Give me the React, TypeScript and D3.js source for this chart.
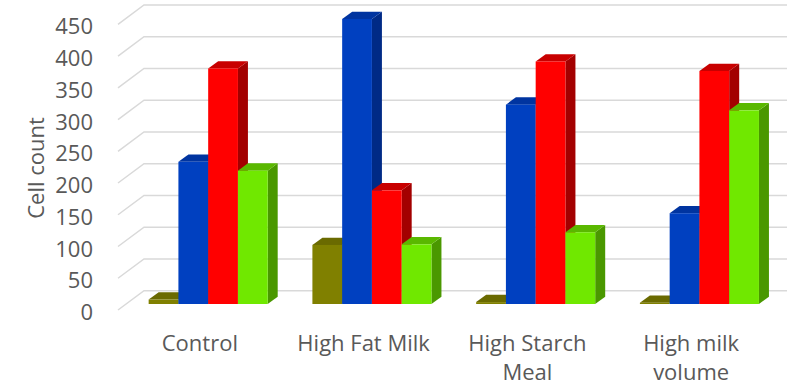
import React from "react";
import * as d3 from "d3";

// Chart data
const categories = ["Control", "High Fat Milk", "High Starch Meal", "High milk volume"];
const categoryLines = [["Control"], ["High Fat Milk"], ["High Starch", "Meal"], ["High milk", "volume"]];
const seriesNames = ["S1", "S2", "S3", "S4"];
const olive = [7, 93, 3, 2];
const blue = [224, 449, 314, 143];
const red = [371, 179, 382, 367];
const green = [210, 94, 113, 305];
const yTicks = [0, 50, 100, 150, 200, 250, 300, 350, 400, 450];

const seriesValues = [olive, blue, red, green];
// front / top / side shades for each series
const seriesColors = [
  { front: "#808000", top: "#6a6a00", side: "#5c5c00" },
  { front: "#0040c0", top: "#0034a0", side: "#002a86" },
  { front: "#ff0000", top: "#c80000", side: "#a30000" },
  { front: "#70e800", top: "#5ab800", side: "#4a9800" },
];

const W = 787;
const H = 386;

// oblique projection of the floor depth
const floorDX = 26;
const floorDY = -19.3;
// bar plane sits partway into the floor; bar depth
const barOffX = 8.3;
const barOffY = -6;
const barDX = 10;
const barDY = -7.3;

const floorLeft = 118;
const floorRight = 773;

export default function App() {
  const yFloor = d3.scaleLinear().domain([0, 450]).range([310, 310 - 285.7]);
  const yBar = (v: number) => yFloor(v) + barOffY;

  const x0 = d3
    .scaleBand<string>()
    .domain(categories)
    .range([floorLeft + barOffX, floorRight + barOffX])
    .paddingInner(0.273)
    .paddingOuter(0.1365);
  const x1 = d3.scaleBand<string>().domain(seriesNames).range([0, x0.bandwidth()]);

  const textColor = "#595959";
  const font = "'Open Sans', 'Noto Sans', sans-serif";

  return (
    <svg width={W} height={H} style={{ position: "absolute", left: 0, top: 0 }}>
      <rect width={W} height={H} fill="#ffffff" />
      {/* gridlines: slanted on the floor side, flat across the back wall */}
      {yTicks.map((t) => {
        const y = yFloor(t);
        const d = `M${floorLeft},${y} L${floorLeft + floorDX},${y + floorDY} L${W},${y + floorDY}`;
        return <path key={"g" + t} d={d} fill="none" stroke="#d9d9d9" strokeWidth={1.5} />;
      })}
      {/* tick labels */}
      {yTicks.map((t) => (
        <text
          key={"t" + t}
          x={93}
          y={yFloor(t) + 1}
          textAnchor="end"
          dominantBaseline="central"
          fontFamily={font}
          fontSize={22}
          fill={textColor}
        >
          {t}
        </text>
      ))}
      <text
        transform={`translate(35,168) rotate(-90)`}
        textAnchor="middle"
        dominantBaseline="central"
        fontFamily={font}
        fontSize={22}
        fill={textColor}
      >
        Cell count
      </text>
      {/* bars */}
      {categories.map((c, ci) => (
        <g key={c}>
          {seriesNames.map((s, si) => {
            const v = seriesValues[si][ci];
            const xl = (x0(c) ?? 0) + (x1(s) ?? 0);
            const xr = xl + x1.bandwidth();
            const yt = yBar(v);
            const yb = yBar(0);
            const col = seriesColors[si];
            const side = `M${xr},${yb} L${xr + barDX},${yb + barDY} L${xr + barDX},${yt + barDY} L${xr},${yt} Z`;
            const top = `M${xl},${yt} L${xl + barDX},${yt + barDY} L${xr + barDX},${yt + barDY} L${xr},${yt} Z`;
            return (
              <g key={s}>
                <path d={side} fill={col.side} />
                <path d={top} fill={col.top} />
                <rect x={xl} y={yt} width={xr - xl} height={yb - yt} fill={col.front} />
              </g>
            );
          })}
        </g>
      ))}
      {/* category labels centred under the floor front */}
      {categories.map((c, ci) => {
        const cx = (x0(c) ?? 0) + x0.bandwidth() / 2 - barOffX;
        return (
          <text key={"c" + c} textAnchor="middle" fontFamily={font} fontSize={22} fill={textColor}>
            {categoryLines[ci].map((line, li) => (
              <tspan key={li} x={cx} y={351 + li * 29}>
                {line}
              </tspan>
            ))}
          </text>
        );
      })}
    </svg>
  );
}
